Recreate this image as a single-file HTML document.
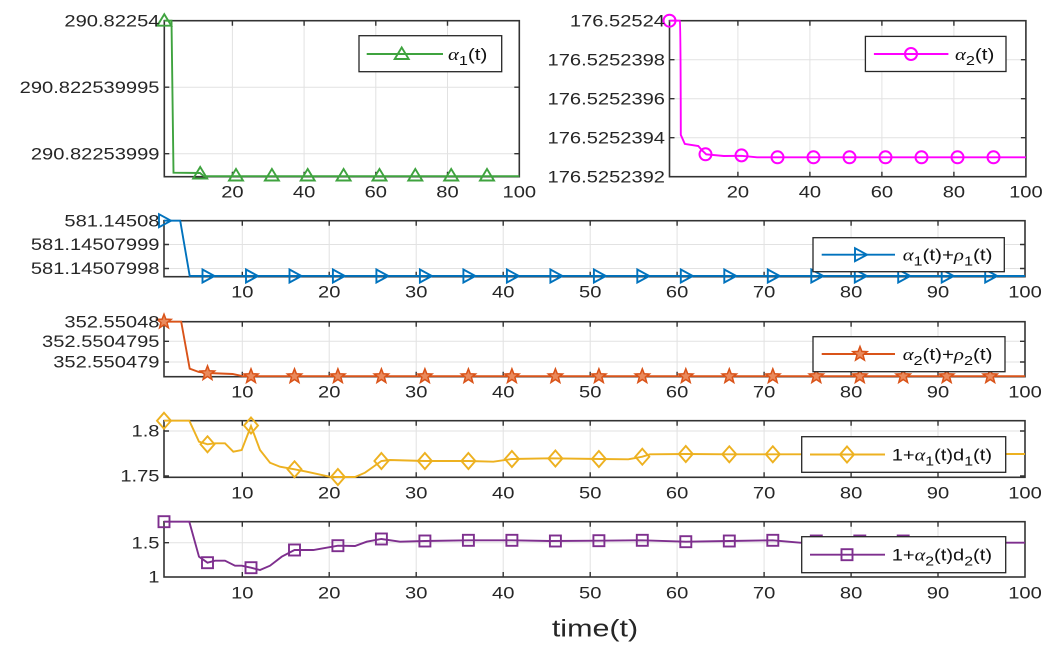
<!DOCTYPE html>
<html><head><meta charset="utf-8"><style>
html,body{margin:0;padding:0;background:#fff}
svg{display:block}
.t{font-family:"Liberation Sans",Arial,sans-serif;font-size:16.5px;fill:#262626}
.lg{font-family:"Liberation Sans",Arial,sans-serif;font-size:16.5px;fill:#111}
.g{font-family:"Liberation Serif","DejaVu Serif",serif;font-style:italic}
.grid{stroke:#e2e2e2;stroke-width:1}
.ax{fill:none;stroke:#333;stroke-width:1.6}
.tk{stroke:#333;stroke-width:1.4}
</style></head><body>
<svg width="1051" height="654" viewBox="0 0 1051 654" xmlns="http://www.w3.org/2000/svg">
<defs>
<path id="mTri" d="M0,-6.5 L7,5 L-7,5 Z" fill="none" stroke="#3fa33f" stroke-width="1.9"/>
<circle id="mCir" r="6" fill="none" stroke="#ff00ff" stroke-width="2"/>
<path id="mRt" d="M-5,-6.5 L7,0 L-5,6.5 Z" fill="none" stroke="#0072bd" stroke-width="1.9"/>
<path id="mStar" d="M0,-7.5 L1.881,-2.589 L7.133,-2.318 L3.043,0.989 L4.408,6.068 L0,3.2 L-4.408,6.068 L-3.043,0.989 L-7.133,-2.318 L-1.881,-2.589 Z" fill="#ea8a5c" stroke="#d95319" stroke-width="1.5"/>
<path id="mDia" d="M0,-8 L7,0 L0,8 L-7,0 Z" fill="none" stroke="#edb120" stroke-width="1.9"/>
<rect id="mSq" x="-5.5" y="-5.5" width="11" height="11" fill="none" stroke="#7e2f8e" stroke-width="1.9"/>
</defs>
<rect width="1051" height="654" fill="#fff"/>

<!-- ================= PANEL 1 ================= -->
<g>
<line class="grid" x1="232.4" y1="20.7" x2="232.4" y2="176.7"/>
<line class="grid" x1="304.1" y1="20.7" x2="304.1" y2="176.7"/>
<line class="grid" x1="375.8" y1="20.7" x2="375.8" y2="176.7"/>
<line class="grid" x1="447.5" y1="20.7" x2="447.5" y2="176.7"/>
<line class="grid" x1="164.3" y1="87.2" x2="519.3" y2="87.2"/>
<line class="grid" x1="164.3" y1="153.7" x2="519.3" y2="153.7"/>
<rect class="ax" x="164.3" y="20.7" width="355" height="156"/>
<path class="tk" d="M232.4,176.7v-5M304.1,176.7v-5M375.8,176.7v-5M447.5,176.7v-5M232.4,20.7v5M304.1,20.7v5M375.8,20.7v5M447.5,20.7v5M164.3,87.2h5M164.3,153.7h5M519.3,87.2h-5M519.3,153.7h-5"/>
<path d="M164.3,20.7 L171.5,20.7 L173.5,172.7 L200,173 L204,176.2 L519.3,176.2" fill="none" stroke="#3fa33f" stroke-width="1.9"/>
<use href="#mTri" x="164.3" y="20.7"/>
<use href="#mTri" x="200.2" y="173.5"/>
<use href="#mTri" x="236" y="175.5"/>
<use href="#mTri" x="271.9" y="175.5"/>
<use href="#mTri" x="307.7" y="175.5"/>
<use href="#mTri" x="343.6" y="175.5"/>
<use href="#mTri" x="379.5" y="175.5"/>
<use href="#mTri" x="415.3" y="175.5"/>
<use href="#mTri" x="451.2" y="175.5"/>
<use href="#mTri" x="487" y="175.5"/>
<rect x="359" y="35.7" width="142.7" height="36" fill="#fff" stroke="#262626" stroke-width="1.3"/>
<line x1="366.7" y1="54" x2="443" y2="54" stroke="#3fa33f" stroke-width="1.9"/>
<use href="#mTri" x="401.7" y="54"/>
<text class="lg" transform="translate(448,60) scale(1.25,1)"><tspan class="g">α</tspan><tspan dy="5" font-size="13">1</tspan><tspan dy="-5">(t)</tspan></text>
<text class="t" text-anchor="end" transform="translate(159.5,26.4) scale(1.22,1)">290.82254</text>
<text class="t" text-anchor="end" transform="translate(159.5,92.9) scale(1.22,1)">290.822539995</text>
<text class="t" text-anchor="end" transform="translate(159.5,159.4) scale(1.22,1)">290.82253999</text>
<text class="t" text-anchor="middle" transform="translate(232.4,197.7) scale(1.22,1)">20</text>
<text class="t" text-anchor="middle" transform="translate(304.1,197.7) scale(1.22,1)">40</text>
<text class="t" text-anchor="middle" transform="translate(375.8,197.7) scale(1.22,1)">60</text>
<text class="t" text-anchor="middle" transform="translate(447.5,197.7) scale(1.22,1)">80</text>
<text class="t" text-anchor="middle" transform="translate(519.3,197.7) scale(1.22,1)">100</text>
</g>

<!-- ================= PANEL 2 ================= -->
<g>
<line class="grid" x1="737.9" y1="20.7" x2="737.9" y2="176.7"/>
<line class="grid" x1="809.9" y1="20.7" x2="809.9" y2="176.7"/>
<line class="grid" x1="881.9" y1="20.7" x2="881.9" y2="176.7"/>
<line class="grid" x1="953.9" y1="20.7" x2="953.9" y2="176.7"/>
<line class="grid" x1="669.5" y1="59.7" x2="1025.9" y2="59.7"/>
<line class="grid" x1="669.5" y1="98.7" x2="1025.9" y2="98.7"/>
<line class="grid" x1="669.5" y1="137.7" x2="1025.9" y2="137.7"/>
<rect class="ax" x="669.5" y="20.7" width="356.4" height="156"/>
<path class="tk" d="M737.9,176.7v-5M809.9,176.7v-5M881.9,176.7v-5M953.9,176.7v-5M737.9,20.7v5M809.9,20.7v5M881.9,20.7v5M953.9,20.7v5M669.5,59.7h5M669.5,98.7h5M669.5,137.7h5M1025.9,59.7h-5M1025.9,98.7h-5M1025.9,137.7h-5"/>
<path d="M669.5,20.7 L679.8,20.7 Q680.6,22 680.8,134.9 L684.8,143.9 L698.3,146 L701.7,150 L706.2,154.3 L723.8,156 L741.3,155.8 L757,157.3 L1025.9,157.3" fill="none" stroke="#ff00ff" stroke-width="1.9"/>
<use href="#mCir" x="669.5" y="20.7"/>
<use href="#mCir" x="705.5" y="154.3"/>
<use href="#mCir" x="741.5" y="155.4"/>
<use href="#mCir" x="777.5" y="157.3"/>
<use href="#mCir" x="813.5" y="157.3"/>
<use href="#mCir" x="849.5" y="157.3"/>
<use href="#mCir" x="885.5" y="157.3"/>
<use href="#mCir" x="921.5" y="157.3"/>
<use href="#mCir" x="957.5" y="157.3"/>
<use href="#mCir" x="993.5" y="157.3"/>
<rect x="865.4" y="36.4" width="140.6" height="35.1" fill="#fff" stroke="#262626" stroke-width="1.3"/>
<line x1="873.9" y1="54" x2="948.4" y2="54" stroke="#ff00ff" stroke-width="1.9"/>
<use href="#mCir" x="911" y="54"/>
<text class="lg" transform="translate(955,60) scale(1.25,1)"><tspan class="g">α</tspan><tspan dy="5" font-size="13">2</tspan><tspan dy="-5">(t)</tspan></text>
<text class="t" text-anchor="end" transform="translate(665,26.4) scale(1.22,1)">176.52524</text>
<text class="t" text-anchor="end" transform="translate(665,65.4) scale(1.22,1)">176.5252398</text>
<text class="t" text-anchor="end" transform="translate(665,104.4) scale(1.22,1)">176.5252396</text>
<text class="t" text-anchor="end" transform="translate(665,143.4) scale(1.22,1)">176.5252394</text>
<text class="t" text-anchor="end" transform="translate(665,182.4) scale(1.22,1)">176.5252392</text>
<text class="t" text-anchor="middle" transform="translate(737.9,197.7) scale(1.22,1)">20</text>
<text class="t" text-anchor="middle" transform="translate(809.9,197.7) scale(1.22,1)">40</text>
<text class="t" text-anchor="middle" transform="translate(881.9,197.7) scale(1.22,1)">60</text>
<text class="t" text-anchor="middle" transform="translate(953.9,197.7) scale(1.22,1)">80</text>
<text class="t" text-anchor="middle" transform="translate(1025.9,197.7) scale(1.22,1)">100</text>
</g>

<!-- ================= PANEL 3 ================= -->
<g>
<path class="grid" d="M242.3,220.7V276.7M329.2,220.7V276.7M416.2,220.7V276.7M503.2,220.7V276.7M590.2,220.7V276.7M677.1,220.7V276.7M764.1,220.7V276.7M851.1,220.7V276.7M938,220.7V276.7M164,244.5H1025M164,268.5H1025"/>
<rect class="ax" x="164" y="220.7" width="861" height="56"/>
<path class="tk" d="M242.3,276.7v-5M329.2,276.7v-5M416.2,276.7v-5M503.2,276.7v-5M590.2,276.7v-5M677.1,276.7v-5M764.1,276.7v-5M851.1,276.7v-5M938,276.7v-5M242.3,220.7v5M329.2,220.7v5M416.2,220.7v5M503.2,220.7v5M590.2,220.7v5M677.1,220.7v5M764.1,220.7v5M851.1,220.7v5M938,220.7v5M164,244.5h5M164,268.5h5M1025,244.5h-5M1025,268.5h-5"/>
<path d="M164,220.7 L180.2,220.7 L189.7,275.9 L1025,276" fill="none" stroke="#0072bd" stroke-width="1.9"/>
<use href="#mRt" x="164" y="220.7"/>
<use href="#mRt" x="207.5" y="276"/><use href="#mRt" x="251" y="276"/><use href="#mRt" x="294.5" y="276"/><use href="#mRt" x="337.9" y="276"/><use href="#mRt" x="381.4" y="276"/><use href="#mRt" x="424.9" y="276"/><use href="#mRt" x="468.4" y="276"/><use href="#mRt" x="511.9" y="276"/><use href="#mRt" x="555.4" y="276"/><use href="#mRt" x="598.9" y="276"/><use href="#mRt" x="642.3" y="276"/><use href="#mRt" x="685.8" y="276"/><use href="#mRt" x="729.3" y="276"/><use href="#mRt" x="772.8" y="276"/><use href="#mRt" x="816.3" y="276"/><use href="#mRt" x="859.8" y="276"/><use href="#mRt" x="903.2" y="276"/><use href="#mRt" x="946.7" y="276"/><use href="#mRt" x="990.2" y="276"/>
<rect x="813" y="237.7" width="191.3" height="34" fill="#fff" stroke="#262626" stroke-width="1.3"/>
<line x1="821.7" y1="254.7" x2="895" y2="254.7" stroke="#0072bd" stroke-width="1.9"/>
<use href="#mRt" x="860" y="254.7"/>
<text class="lg" transform="translate(902.7,260.5) scale(1.25,1)"><tspan class="g">α</tspan><tspan dy="5" font-size="13">1</tspan><tspan dy="-5">(t)+</tspan><tspan class="g">ρ</tspan><tspan dy="5" font-size="13">1</tspan><tspan dy="-5">(t)</tspan></text>
<text class="t" text-anchor="end" transform="translate(159.5,226.4) scale(1.22,1)">581.14508</text>
<text class="t" text-anchor="end" transform="translate(159.5,250.2) scale(1.22,1)">581.14507999</text>
<text class="t" text-anchor="end" transform="translate(159.5,274.2) scale(1.22,1)">581.14507998</text>
<text class="t" text-anchor="middle" transform="translate(242.3,297.4) scale(1.22,1)">10</text>
<text class="t" text-anchor="middle" transform="translate(329.2,297.4) scale(1.22,1)">20</text>
<text class="t" text-anchor="middle" transform="translate(416.2,297.4) scale(1.22,1)">30</text>
<text class="t" text-anchor="middle" transform="translate(503.2,297.4) scale(1.22,1)">40</text>
<text class="t" text-anchor="middle" transform="translate(590.2,297.4) scale(1.22,1)">50</text>
<text class="t" text-anchor="middle" transform="translate(677.1,297.4) scale(1.22,1)">60</text>
<text class="t" text-anchor="middle" transform="translate(764.1,297.4) scale(1.22,1)">70</text>
<text class="t" text-anchor="middle" transform="translate(851.1,297.4) scale(1.22,1)">80</text>
<text class="t" text-anchor="middle" transform="translate(938,297.4) scale(1.22,1)">90</text>
<text class="t" text-anchor="middle" transform="translate(1025,297.4) scale(1.22,1)">100</text>
</g>

<!-- ================= PANEL 4 ================= -->
<g>
<path class="grid" d="M242.3,321.7V376.7M329.2,321.7V376.7M416.2,321.7V376.7M503.2,321.7V376.7M590.2,321.7V376.7M677.1,321.7V376.7M764.1,321.7V376.7M851.1,321.7V376.7M938,321.7V376.7M164,341.3H1025M164,362H1025"/>
<rect class="ax" x="164" y="321.7" width="861" height="55"/>
<path class="tk" d="M242.3,376.7v-5M329.2,376.7v-5M416.2,376.7v-5M503.2,376.7v-5M590.2,376.7v-5M677.1,376.7v-5M764.1,376.7v-5M851.1,376.7v-5M938,376.7v-5M242.3,321.7v5M329.2,321.7v5M416.2,321.7v5M503.2,321.7v5M590.2,321.7v5M677.1,321.7v5M764.1,321.7v5M851.1,321.7v5M938,321.7v5M164,341.3h5M164,362h5M1025,341.3h-5M1025,362h-5"/>
<path d="M164,321.7 L181.2,321.7 L189.7,368.7 L198.8,372 L207.9,373 L232.6,374 L242.8,376.2 L1025,376.2" fill="none" stroke="#d95319" stroke-width="1.9"/>
<use href="#mStar" x="164" y="321.7"/>
<use href="#mStar" x="207.5" y="373.3"/>
<use href="#mStar" x="251" y="376.3"/><use href="#mStar" x="294.5" y="376.3"/><use href="#mStar" x="337.9" y="376.3"/><use href="#mStar" x="381.4" y="376.3"/><use href="#mStar" x="424.9" y="376.3"/><use href="#mStar" x="468.4" y="376.3"/><use href="#mStar" x="511.9" y="376.3"/><use href="#mStar" x="555.4" y="376.3"/><use href="#mStar" x="598.9" y="376.3"/><use href="#mStar" x="642.3" y="376.3"/><use href="#mStar" x="685.8" y="376.3"/><use href="#mStar" x="729.3" y="376.3"/><use href="#mStar" x="772.8" y="376.3"/><use href="#mStar" x="816.3" y="376.3"/><use href="#mStar" x="859.8" y="376.3"/><use href="#mStar" x="903.2" y="376.3"/><use href="#mStar" x="946.7" y="376.3"/><use href="#mStar" x="990.2" y="376.3"/>
<rect x="813" y="336.7" width="192" height="35" fill="#fff" stroke="#262626" stroke-width="1.3"/>
<line x1="821.7" y1="354" x2="895" y2="354" stroke="#d95319" stroke-width="1.9"/>
<use href="#mStar" x="860" y="354"/>
<text class="lg" transform="translate(902.7,359.8) scale(1.25,1)"><tspan class="g">α</tspan><tspan dy="5" font-size="13">2</tspan><tspan dy="-5">(t)+</tspan><tspan class="g">ρ</tspan><tspan dy="5" font-size="13">2</tspan><tspan dy="-5">(t)</tspan></text>
<text class="t" text-anchor="end" transform="translate(159.5,327.4) scale(1.22,1)">352.55048</text>
<text class="t" text-anchor="end" transform="translate(159.5,347) scale(1.22,1)">352.5504795</text>
<text class="t" text-anchor="end" transform="translate(159.5,367.7) scale(1.22,1)">352.550479</text>
<text class="t" text-anchor="middle" transform="translate(242.3,397.4) scale(1.22,1)">10</text>
<text class="t" text-anchor="middle" transform="translate(329.2,397.4) scale(1.22,1)">20</text>
<text class="t" text-anchor="middle" transform="translate(416.2,397.4) scale(1.22,1)">30</text>
<text class="t" text-anchor="middle" transform="translate(503.2,397.4) scale(1.22,1)">40</text>
<text class="t" text-anchor="middle" transform="translate(590.2,397.4) scale(1.22,1)">50</text>
<text class="t" text-anchor="middle" transform="translate(677.1,397.4) scale(1.22,1)">60</text>
<text class="t" text-anchor="middle" transform="translate(764.1,397.4) scale(1.22,1)">70</text>
<text class="t" text-anchor="middle" transform="translate(851.1,397.4) scale(1.22,1)">80</text>
<text class="t" text-anchor="middle" transform="translate(938,397.4) scale(1.22,1)">90</text>
<text class="t" text-anchor="middle" transform="translate(1025,397.4) scale(1.22,1)">100</text>
</g>

<!-- ================= PANEL 5 ================= -->
<g>
<path class="grid" d="M242.3,420.7V477.3M329.2,420.7V477.3M416.2,420.7V477.3M503.2,420.7V477.3M590.2,420.7V477.3M677.1,420.7V477.3M764.1,420.7V477.3M851.1,420.7V477.3M938,420.7V477.3M164,431H1025"/>
<rect class="ax" x="164" y="420.7" width="861" height="56.6"/>
<path class="tk" d="M242.3,477.3v-5M329.2,477.3v-5M416.2,477.3v-5M503.2,477.3v-5M590.2,477.3v-5M677.1,477.3v-5M764.1,477.3v-5M851.1,477.3v-5M938,477.3v-5M242.3,420.7v5M329.2,420.7v5M416.2,420.7v5M503.2,420.7v5M590.2,420.7v5M677.1,420.7v5M764.1,420.7v5M851.1,420.7v5M938,420.7v5M164,431h5M164,476h5M1025,431h-5M1025,476h-5"/>
<path d="M164,420.7 L189.3,420.7 L199,441.7 L207.5,444.3 L215,443.3 L225,443.3 L233.3,451.7 L241.7,450 L251,426 L260,450 L270,462.7 L280,466.7 L294.5,469.3 L306.7,471.7 L330,476.8 L337.9,477 L346.7,477 L355,477 L365,472.7 L381.4,461 L390,460 L424.9,461 L468.4,461 L493.3,461.7 L511.9,459 L550,458.3 L600,459 L628.3,459.3 L642.3,456.7 L650,454.3 L685.8,454 L729.3,454.3 L772.8,454.3 L1025,454" fill="none" stroke="#edb120" stroke-width="1.9"/>
<use href="#mDia" x="164" y="420.7"/>
<use href="#mDia" x="207.5" y="444.3"/>
<use href="#mDia" x="251" y="425.5"/>
<use href="#mDia" x="294.5" y="469.3"/>
<use href="#mDia" x="337.9" y="477"/>
<use href="#mDia" x="381.4" y="461"/>
<use href="#mDia" x="424.9" y="461"/>
<use href="#mDia" x="468.4" y="461"/>
<use href="#mDia" x="511.9" y="459"/>
<use href="#mDia" x="555.4" y="458.5"/>
<use href="#mDia" x="598.9" y="459"/>
<use href="#mDia" x="642.3" y="456.7"/>
<use href="#mDia" x="685.8" y="454"/>
<use href="#mDia" x="729.3" y="454.3"/>
<use href="#mDia" x="772.8" y="454.3"/>
<rect x="801.7" y="436.7" width="204" height="35.6" fill="#fff" stroke="#262626" stroke-width="1.3"/>
<line x1="810" y1="454.5" x2="885" y2="454.5" stroke="#edb120" stroke-width="1.9"/>
<use href="#mDia" x="847" y="454.5"/>
<text class="lg" transform="translate(891.7,460.3) scale(1.22,1)">1+<tspan class="g">α</tspan><tspan dy="5" font-size="13">1</tspan><tspan dy="-5">(t)d</tspan><tspan dy="5" font-size="13">1</tspan><tspan dy="-5">(t)</tspan></text>
<text class="t" text-anchor="end" transform="translate(159.5,436.7) scale(1.22,1)">1.8</text>
<text class="t" text-anchor="end" transform="translate(159.5,481.7) scale(1.22,1)">1.75</text>
<text class="t" text-anchor="middle" transform="translate(242.3,498.3) scale(1.22,1)">10</text>
<text class="t" text-anchor="middle" transform="translate(329.2,498.3) scale(1.22,1)">20</text>
<text class="t" text-anchor="middle" transform="translate(416.2,498.3) scale(1.22,1)">30</text>
<text class="t" text-anchor="middle" transform="translate(503.2,498.3) scale(1.22,1)">40</text>
<text class="t" text-anchor="middle" transform="translate(590.2,498.3) scale(1.22,1)">50</text>
<text class="t" text-anchor="middle" transform="translate(677.1,498.3) scale(1.22,1)">60</text>
<text class="t" text-anchor="middle" transform="translate(764.1,498.3) scale(1.22,1)">70</text>
<text class="t" text-anchor="middle" transform="translate(851.1,498.3) scale(1.22,1)">80</text>
<text class="t" text-anchor="middle" transform="translate(938,498.3) scale(1.22,1)">90</text>
<text class="t" text-anchor="middle" transform="translate(1025,498.3) scale(1.22,1)">100</text>
</g>

<!-- ================= PANEL 6 ================= -->
<g>
<path class="grid" d="M242.3,521.7V577M329.2,521.7V577M416.2,521.7V577M503.2,521.7V577M590.2,521.7V577M677.1,521.7V577M764.1,521.7V577M851.1,521.7V577M938,521.7V577M164,542.7H1025"/>
<rect class="ax" x="164" y="521.7" width="861" height="55.3"/>
<path class="tk" d="M242.3,577v-5M329.2,577v-5M416.2,577v-5M503.2,577v-5M590.2,577v-5M677.1,577v-5M764.1,577v-5M851.1,577v-5M938,577v-5M242.3,521.7v5M329.2,521.7v5M416.2,521.7v5M503.2,521.7v5M590.2,521.7v5M677.1,521.7v5M764.1,521.7v5M851.1,521.7v5M938,521.7v5M164,542.7h5M1025,542.7h-5"/>
<path d="M164,521.7 L189.3,521.7 L199,556.7 L207.5,562.7 L215,560.7 L225,560.7 L235,565.7 L241.7,565.7 L251,567.7 L260,570 L270,565.7 L281.7,556.7 L294.5,550 L313.3,550 L337.9,545.7 L355,546 L366.7,541.7 L381.4,539 L400,541.7 L424.9,541 L468.4,540.3 L511.9,540.3 L550,541 L600,540.7 L642.3,540.3 L685.8,541.7 L729.3,541 L772.8,540.3 L800,542.7 L1025,542.7" fill="none" stroke="#7e2f8e" stroke-width="1.9"/>
<use href="#mSq" x="164" y="521.7"/>
<use href="#mSq" x="207.5" y="562.7"/>
<use href="#mSq" x="251" y="567.7"/>
<use href="#mSq" x="294.5" y="550"/>
<use href="#mSq" x="337.9" y="545.7"/>
<use href="#mSq" x="381.4" y="539"/>
<use href="#mSq" x="424.9" y="541"/>
<use href="#mSq" x="468.4" y="540.3"/>
<use href="#mSq" x="511.9" y="540.3"/>
<use href="#mSq" x="555.4" y="541"/>
<use href="#mSq" x="598.9" y="540.7"/>
<use href="#mSq" x="642.3" y="540.3"/>
<use href="#mSq" x="685.8" y="541.7"/>
<use href="#mSq" x="729.3" y="541"/>
<use href="#mSq" x="772.8" y="540.3"/>
<use href="#mSq" x="816.3" y="541"/>
<use href="#mSq" x="859.8" y="541"/>
<use href="#mSq" x="903.2" y="541"/>
<rect x="801.7" y="536.7" width="204" height="36" fill="#fff" stroke="#262626" stroke-width="1.3"/>
<line x1="810" y1="554.7" x2="885" y2="554.7" stroke="#7e2f8e" stroke-width="1.9"/>
<use href="#mSq" x="847" y="554.7"/>
<text class="lg" transform="translate(891.7,560.5) scale(1.22,1)">1+<tspan class="g">α</tspan><tspan dy="5" font-size="13">2</tspan><tspan dy="-5">(t)d</tspan><tspan dy="5" font-size="13">2</tspan><tspan dy="-5">(t)</tspan></text>
<text class="t" text-anchor="end" transform="translate(159.5,548.4) scale(1.22,1)">1.5</text>
<text class="t" text-anchor="end" transform="translate(159.5,582.7) scale(1.22,1)">1</text>
<text class="t" text-anchor="middle" transform="translate(242.3,598.3) scale(1.22,1)">10</text>
<text class="t" text-anchor="middle" transform="translate(329.2,598.3) scale(1.22,1)">20</text>
<text class="t" text-anchor="middle" transform="translate(416.2,598.3) scale(1.22,1)">30</text>
<text class="t" text-anchor="middle" transform="translate(503.2,598.3) scale(1.22,1)">40</text>
<text class="t" text-anchor="middle" transform="translate(590.2,598.3) scale(1.22,1)">50</text>
<text class="t" text-anchor="middle" transform="translate(677.1,598.3) scale(1.22,1)">60</text>
<text class="t" text-anchor="middle" transform="translate(764.1,598.3) scale(1.22,1)">70</text>
<text class="t" text-anchor="middle" transform="translate(851.1,598.3) scale(1.22,1)">80</text>
<text class="t" text-anchor="middle" transform="translate(938,598.3) scale(1.22,1)">90</text>
<text class="t" text-anchor="middle" transform="translate(1025,598.3) scale(1.22,1)">100</text>
</g>

<text text-anchor="middle" transform="translate(595,636.5) scale(1.27,1)" style="font-family:'Liberation Sans',Arial,sans-serif;font-size:24px;fill:#262626">time(t)</text>
</svg>
</body></html>
